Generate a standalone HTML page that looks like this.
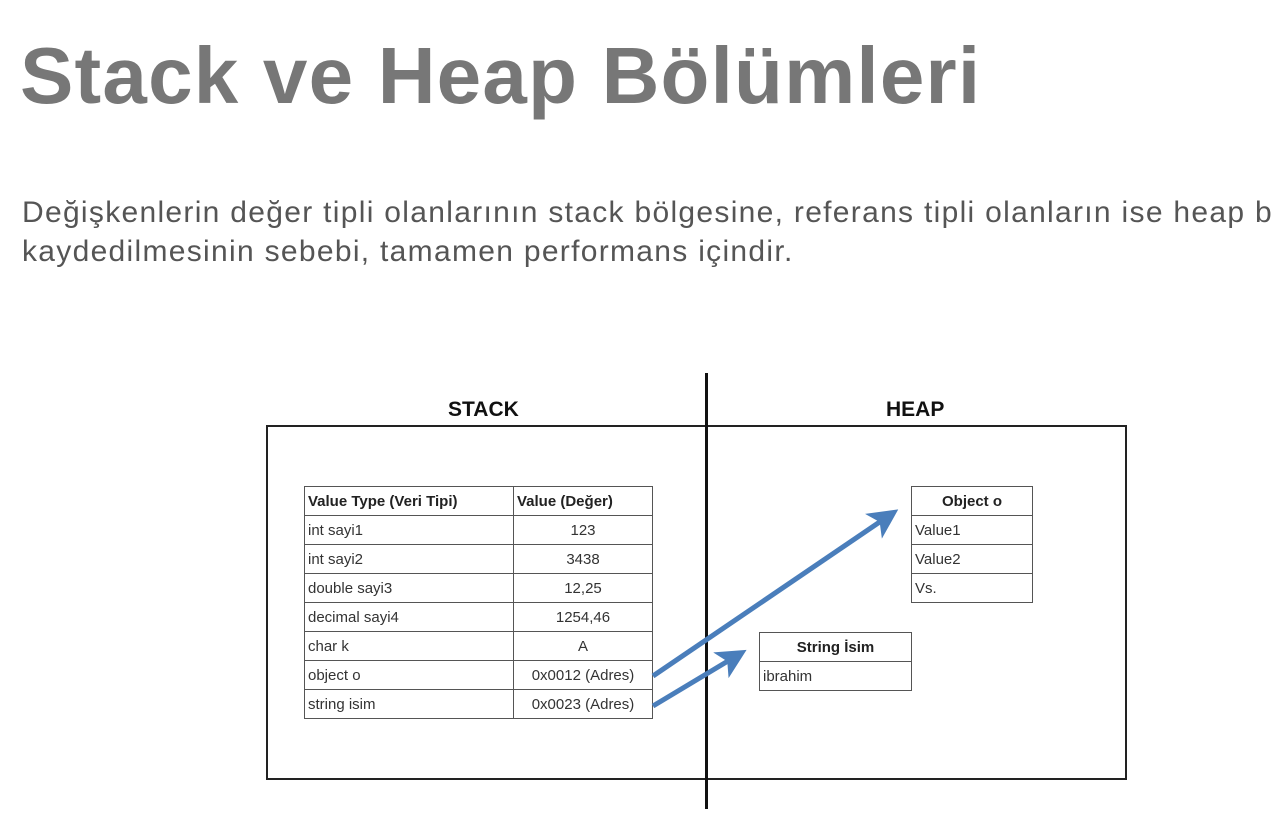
<!DOCTYPE html>
<html><head><meta charset="utf-8"><style>
body{margin:0;width:1274px;height:824px;background:#fff;position:relative;overflow:hidden;font-family:"Liberation Sans",sans-serif}
.t{position:absolute;left:20px;top:30px;font-size:80px;font-weight:bold;color:#777;white-space:nowrap;letter-spacing:1.2px}
.s{position:absolute;left:22px;top:193px;font-size:30px;color:#555;line-height:39px;white-space:nowrap;letter-spacing:1.3px}
table{position:absolute;border-collapse:collapse;font-size:15px;color:#333}
td{border:1.5px solid #555;height:28px;padding:0 3px;white-space:nowrap}
.h{font-weight:bold;color:#222}
.c{text-align:center}
.lbl{position:absolute;font-weight:bold;font-size:21px;color:#111}
</style></head><body>
<div class="t">Stack ve Heap Bölümleri</div>
<div class="s">Değişkenlerin değer tipli olanlarının stack bölgesine, referans tipli olanların ise heap bölgesine<br>kaydedilmesinin sebebi, tamamen performans içindir.</div>
<div style="position:absolute;left:266px;top:425px;width:857px;height:351px;border:2.5px solid #222"></div>
<div style="position:absolute;left:705px;top:373px;width:3px;height:436px;background:#111"></div>
<div class="lbl" style="left:448px;top:398px">STACK</div>
<div class="lbl" style="left:886px;top:398px">HEAP</div>
<table style="left:304px;top:486px;width:349px">
<tr><td class="h" style="width:202px">Value Type (Veri Tipi)</td><td class="h">Value (Değer)</td></tr>
<tr><td>int sayi1</td><td class="c">123</td></tr>
<tr><td>int sayi2</td><td class="c">3438</td></tr>
<tr><td>double sayi3</td><td class="c">12,25</td></tr>
<tr><td>decimal sayi4</td><td class="c">1254,46</td></tr>
<tr><td>char k</td><td class="c">A</td></tr>
<tr><td>object o</td><td class="c">0x0012 (Adres)</td></tr>
<tr><td>string isim</td><td class="c">0x0023 (Adres)</td></tr>
</table>
<table style="left:911px;top:486px;width:122px">
<tr><td class="h c">Object o</td></tr>
<tr><td>Value1</td></tr>
<tr><td>Value2</td></tr>
<tr><td>Vs.</td></tr>
</table>
<table style="left:759px;top:632px;width:153px">
<tr><td class="h c">String İsim</td></tr>
<tr><td>ibrahim</td></tr>
</table>
<svg style="position:absolute;left:0;top:0" width="1274" height="824">
<defs><marker id="a" markerWidth="6" markerHeight="6" refX="4" refY="3" orient="auto" markerUnits="strokeWidth"><path d="M0,0 L6,3 L0,6 L1.5,3 z" fill="#4a7ebb"/></marker></defs>
<line x1="653" y1="676" x2="890" y2="515" stroke="#4a7ebb" stroke-width="5" marker-end="url(#a)"/>
<line x1="653" y1="706" x2="738" y2="655" stroke="#4a7ebb" stroke-width="5" marker-end="url(#a)"/>
</svg>
</body></html>
